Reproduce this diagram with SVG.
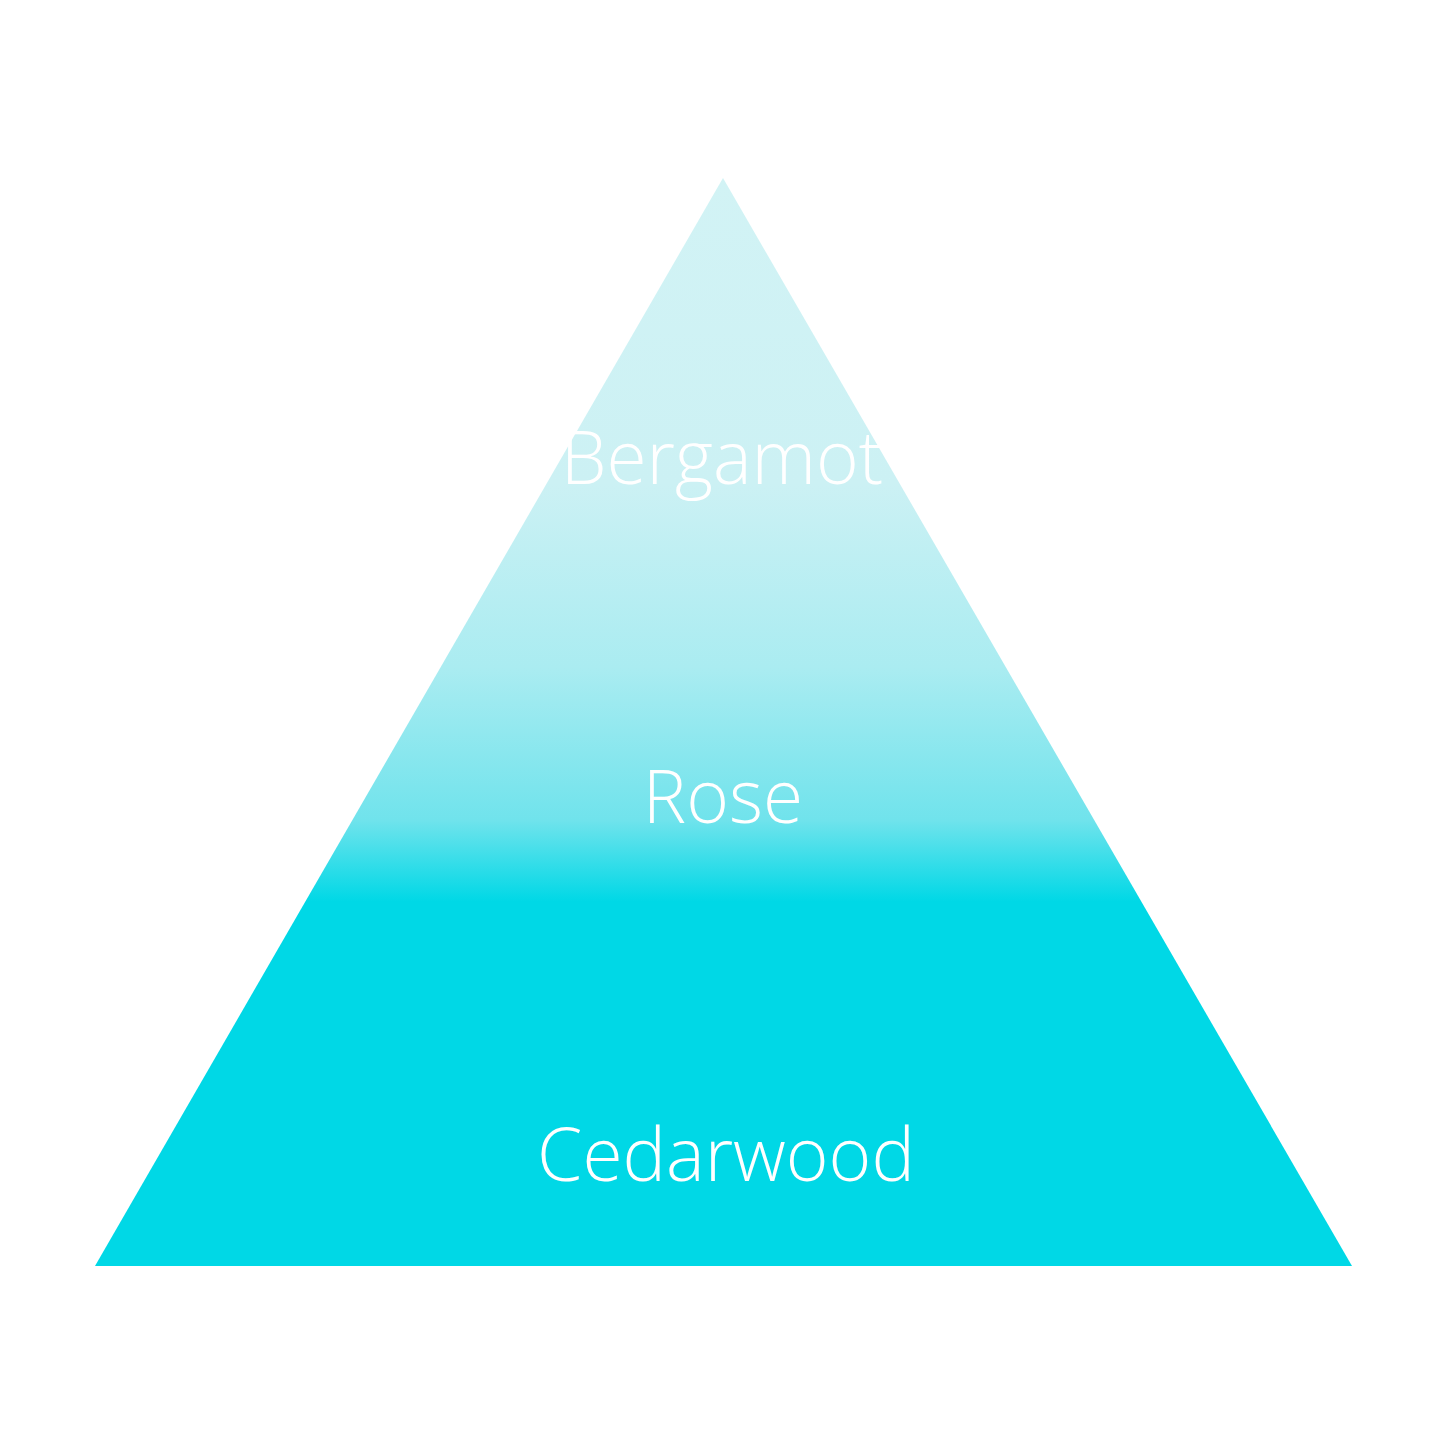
<svg xmlns="http://www.w3.org/2000/svg" width="1445" height="1445" viewBox="0 0 1445 1445">
<style>
.lbl{font-family:"Open Sans","Liberation Sans",sans-serif;font-weight:300;fill:#ffffff;text-anchor:middle;font-size:73px}
</style>
<defs>
<linearGradient id="g" gradientUnits="userSpaceOnUse" x1="0" y1="178" x2="0" y2="1266">
<stop offset="0" stop-color="#d2f3f5"/>
<stop offset="0.28" stop-color="#ccf1f4"/>
<stop offset="0.45" stop-color="#aaecf1"/>
<stop offset="0.59" stop-color="#70e3ec"/>
<stop offset="0.665" stop-color="#00d8e6"/>
<stop offset="1" stop-color="#00d8e6"/>
</linearGradient>
</defs>
<rect width="1445" height="1445" fill="#ffffff"/>
<g id="pyramid">
<polygon points="723,178 1352,1266 95,1266" fill="url(#g)"/>
</g>
<g id="top"><text class="lbl" x="722" y="484">Bergamot</text></g>
<g id="middle"><text class="lbl" x="723" y="823">Rose</text></g>
<g id="base"><text class="lbl" x="726" y="1181">Cedarwood</text></g>
<g id="connectors"/>
</svg>
